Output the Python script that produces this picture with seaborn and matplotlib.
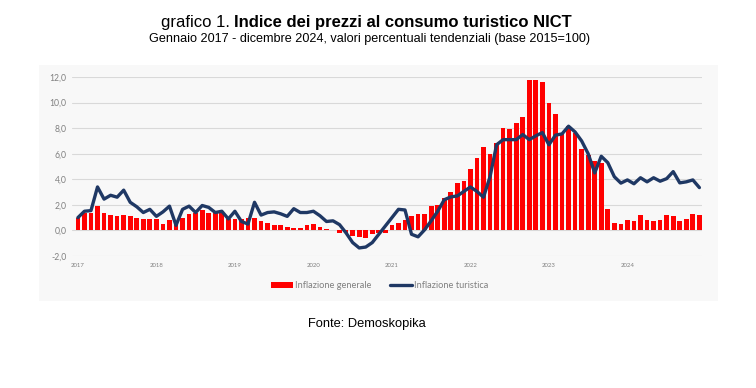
import numpy as np
import pandas as pd
import matplotlib
matplotlib.use('Agg')
import matplotlib.pyplot as plt
import seaborn as sns
from matplotlib.patches import Rectangle, Patch
from matplotlib.lines import Line2D

# dati mensili gen 2017 - dic 2024 (valori % tendenziali)
anni = ['2017', '2018', '2019', '2020', '2021', '2022', '2023', '2024']

inflazione_generale = [
    1.0, 1.4, 1.4, 1.9, 1.4, 1.2, 1.1, 1.2, 1.1, 1.0, 0.9, 0.9,      # 2017
    0.9, 0.5, 0.8, 0.5, 1.0, 1.3, 1.4, 1.6, 1.4, 1.5, 1.5, 0.9,      # 2018
    0.9, 0.9, 1.0, 1.0, 0.7, 0.6, 0.4, 0.4, 0.3, 0.2, 0.2, 0.4,      # 2019
    0.5, 0.3, 0.1, 0.0, -0.2, -0.2, -0.4, -0.5, -0.6, -0.3, -0.2, -0.2,  # 2020
    0.4, 0.6, 0.8, 1.1, 1.3, 1.3, 1.9, 2.0, 2.5, 3.0, 3.7, 3.9,      # 2021
    4.8, 5.7, 6.5, 6.0, 6.8, 8.0, 7.9, 8.4, 8.9, 11.8, 11.8, 11.6,   # 2022
    10.0, 9.1, 7.6, 8.2, 7.6, 6.4, 5.9, 5.4, 5.3, 1.7, 0.6, 0.5,     # 2023
    0.8, 0.7, 1.2, 0.8, 0.7, 0.8, 1.2, 1.1, 0.7, 0.9, 1.3, 1.2,      # 2024
]

inflazione_turistica = [
    1.0, 1.5, 1.55, 3.4, 2.45, 2.75, 2.6, 3.15, 2.2, 1.85, 1.4, 1.65,
    1.1, 1.45, 1.9, 0.4, 1.65, 1.9, 1.4, 1.95, 1.8, 1.4, 1.5, 0.9,
    1.5, 0.7, 0.5, 2.2, 1.2, 1.4, 1.45, 1.3, 1.1, 1.7, 1.4, 1.4,
    1.5, 1.15, 0.7, 0.75, 0.45, -0.2, -0.95, -1.37, -1.3, -0.95, -0.3, 0.35,
    1.0, 1.65, 1.6, -0.3, -0.5, 0.05, 0.75, 1.5, 2.4, 2.62, 2.7, 3.05,
    3.4, 3.05, 2.6, 4.2, 6.7, 7.1, 7.1, 7.1, 7.5, 7.1, 7.4, 7.65,
    6.7, 7.45, 7.55, 8.15, 7.7, 7.0, 6.0, 4.5, 5.8, 5.3, 4.2, 3.7,
    3.95, 3.65, 4.12, 3.8, 4.12, 3.85, 4.05, 4.6, 3.72, 3.8, 3.95, 3.35,
]

df = pd.DataFrame({
    'mese': np.arange(len(inflazione_generale)),
    'generale': inflazione_generale,
    'turistica': inflazione_turistica,
})

sns.set_theme(style='white')
plt.rcParams['font.family'] = ['Lato', 'DejaVu Sans']

RED = '#ff0000'
NAVY = '#1f3864'
GREY = '#808080'
W, H = 756, 388

fig = plt.figure(figsize=(W / 100, H / 100), dpi=100)
fig.patch.set_facecolor('white')

# pannello grigio chiaro del grafico
fig.patches.append(Rectangle((39 / W, 1 - 301 / H), (718 - 39) / W, (301 - 65) / H,
                             transform=fig.transFigure, facecolor='#f8f8f8',
                             edgecolor='none', zorder=-1))

ax = fig.add_axes([72 / W, 1 - 256 / H, (702 - 72) / W, (256 - 77) / H])
ax.patch.set_visible(False)

# barre su asse categoriale (posizioni 0..95), linea sugli stessi indici
sns.barplot(data=df, x='mese', y='generale', color=RED, saturation=1,
            width=0.72, errorbar=None, linewidth=0, edgecolor='none', ax=ax, zorder=2)
sns.lineplot(data=df, x='mese', y='turistica', color=NAVY, linewidth=2.4,
             ax=ax, zorder=3, solid_joinstyle='round', solid_capstyle='round')

ax.set_xlim(-0.9, 95.4)
ax.set_ylim(-2, 12)
yt = np.arange(-2, 13, 2)
ax.set_yticks(yt)
ax.set_yticklabels([f'{v:.1f}'.replace('.', ',') for v in yt], color=GREY, fontsize=6.2)
ax.set_xticks(np.arange(0, 96, 12))
ax.set_xticklabels(anni, color=GREY, fontsize=4.3)
ax.tick_params(axis='both', length=0)
ax.tick_params(axis='y', pad=4)
ax.tick_params(axis='x', pad=5)
ax.set_xlabel('')
ax.set_ylabel('')
ax.yaxis.grid(True, color='#d9d9d9', linewidth=0.8)
ax.xaxis.grid(False)
ax.set_axisbelow(True)
for s in ax.spines.values():
    s.set_visible(False)

handles = [Patch(facecolor=RED, edgecolor='none'),
           Line2D([0], [0], color=NAVY, linewidth=2.4)]
fig.legend(handles, ['Inflazione generale', 'Inflazione turistica'],
           loc='center', bbox_to_anchor=(380 / W, 1 - 285.5 / H), ncol=2,
           frameon=False, fontsize=6.7, labelcolor=GREY, handlelength=2.3,
           handleheight=0.6, handletextpad=0.3, columnspacing=2.0)

# titoli
fig.text(229.5 / W, 1 - 27.3 / H, 'grafico 1.', ha='right', va='baseline',
         fontsize=12, family='Liberation Sans', color='black')
fig.text(234 / W, 1 - 27.3 / H, 'Indice dei prezzi al consumo turistico NICT',
         ha='left', va='baseline', fontsize=12, fontweight='bold',
         family='Liberation Sans', color='black')
fig.text(370 / W, 1 - 41.7 / H,
         'Gennaio 2017 - dicembre 2024, valori percentuali tendenziali (base 2015=100)',
         ha='center', va='baseline', fontsize=9.1, family='Liberation Sans', color='black')
fig.text(367 / W, 1 - 326.7 / H, 'Fonte: Demoskopika', ha='center', va='baseline',
         fontsize=9.3, family='Liberation Sans', color='black')

fig.savefig('out.png', dpi=100)
